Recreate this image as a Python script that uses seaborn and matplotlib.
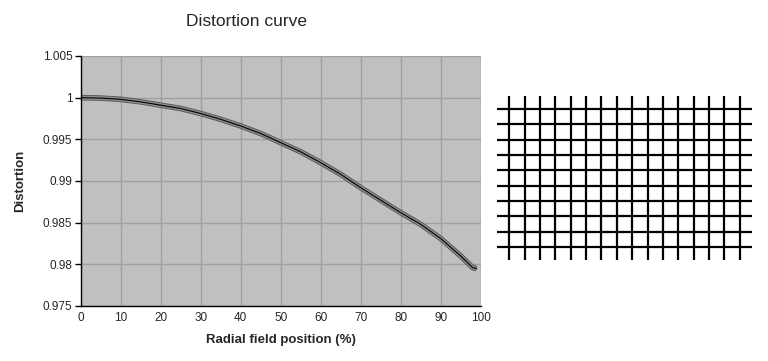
import numpy as np
import pandas as pd
import seaborn as sns
import matplotlib.pyplot as plt
from matplotlib.ticker import FuncFormatter

# radial field position (%) and distortion
radial_pos = [0, 5, 10, 15, 20, 25, 30, 35, 40, 45, 50,
              55, 60, 65, 70, 75, 80, 85, 90, 95, 98, 99]
distortion = [1.0000, 0.99995, 0.9998, 0.9995, 0.9991, 0.9987, 0.9981,
              0.9974, 0.9966, 0.9957, 0.9946, 0.9935, 0.9922, 0.9908,
              0.9892, 0.9877, 0.9862, 0.9848, 0.9831, 0.9810, 0.9796, 0.9795]

x_ticks = [0, 10, 20, 30, 40, 50, 60, 70, 80, 90, 100]
y_ticks = [0.975, 0.98, 0.985, 0.99, 0.995, 1.0, 1.005]

# grid picture on the right: 16 vertical, 10 horizontal lines
n_cols = 16
n_rows = 10

sns.set_theme(style="white")
plt.rcParams['font.family'] = ['Liberation Sans', 'DejaVu Sans']

df = pd.DataFrame({"pos": radial_pos, "dist": distortion})

fig = plt.figure(figsize=(7.68, 3.61), dpi=100)
fig.patch.set_facecolor("white")

# --- distortion curve ---
ax = fig.add_axes([80.7 / 768, 1 - 306 / 361, 400 / 768, 250 / 361])
ax.set_facecolor("#c0c0c0")
sns.lineplot(data=df, x="pos", y="dist", ax=ax, color="#555555", lw=4.0,
             solid_capstyle="butt")
sns.lineplot(data=df, x="pos", y="dist", ax=ax, color="#8c8c8c", lw=2.8,
             solid_capstyle="butt")
sns.lineplot(data=df, x="pos", y="dist", ax=ax, color="black", lw=0.8)

ax.set_xlim(0, 100)
ax.set_ylim(0.975, 1.005)
ax.set_xticks(x_ticks)
ax.set_yticks(y_ticks)
ax.yaxis.set_major_formatter(FuncFormatter(lambda v, p: f"{v:g}"))
ax.grid(True, color="#a0a0a0", lw=1.0)
ax.set_axisbelow(True)
for s in ["top", "right"]:
    ax.spines[s].set_visible(False)
for s in ["left", "bottom"]:
    ax.spines[s].set_color("black")
    ax.spines[s].set_linewidth(1.0)
ax.tick_params(axis="y", direction="out", length=4, width=1, color="black",
               labelsize=8.5, pad=2, left=True)
ax.tick_params(axis="x", length=0, labelsize=8.5, pad=4)
ax.set_xlabel("")
ax.set_ylabel("")

fig.text(280.7 / 768, 1 - 340 / 361, "Radial field position (%)",
         ha="center", va="center", fontsize=9.5, fontweight="bold")
fig.text(20 / 768, 1 - 181 / 361, "Distortion", rotation=90,
         ha="center", va="center", fontsize=9.5, fontweight="bold")
fig.text(247 / 768, 1 - 21 / 361, "Distortion curve",
         ha="center", va="center", fontsize=12.5)

# --- grid picture ---
gx = fig.add_axes([497 / 768, 1 - 260 / 361, 255 / 768, 164 / 361])
gx.set_xlim(-8.3, 8.3)
gx.set_ylim(-5.35, 5.35)
gx.axis("off")

us = np.arange(n_cols) - (n_cols - 1) / 2
vs = np.arange(n_rows) - (n_rows - 1) / 2
for u in us:
    gx.plot([u, u], [-5.35, 5.35], color="black", lw=1.6,
            solid_capstyle="butt")
for v in vs:
    gx.plot([-8.3, 8.3], [v, v], color="black", lw=1.6,
            solid_capstyle="butt")

fig.savefig("out.png", dpi=100)
